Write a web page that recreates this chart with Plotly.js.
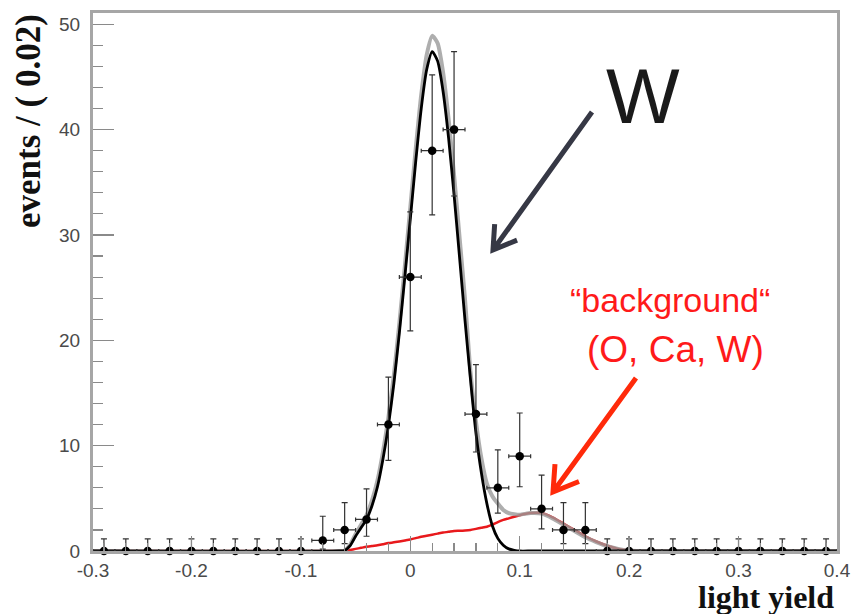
<!DOCTYPE html>
<html>
<head>
<meta charset="utf-8">
<script src="https://cdn.plot.ly/plotly-3.0.1.min.js"></script>
<style>html,body{margin:0;padding:0;background:#fff;}#chart{width:857px;height:614px;}</style>
</head>
<body>
<div id="chart"></div>
<script>
// ---- data ----
const binCenters = [-0.28,-0.26,-0.24,-0.22,-0.20,-0.18,-0.16,-0.14,-0.12,-0.10,
  -0.08,-0.06,-0.04,-0.02,0.00,0.02,0.04,0.06,0.08,0.10,0.12,0.14,0.16,
  0.18,0.20,0.22,0.24,0.26,0.28,0.30,0.32,0.34,0.36,0.38];
const events = [0,0,0,0,0,0,0,0,0,0,
  1,2,3,12,26,38,40,13,6,9,4,2,2,
  0,0,0,0,0,0,0,0,0,0,0];
const errUp = [1.15,1.15,1.15,1.15,1.15,1.15,1.15,1.15,1.15,1.15,
  2.3,2.6,2.9,4.5,6.2,7.2,7.4,4.7,3.6,4.1,3.2,2.6,2.6,
  1.15,1.15,1.15,1.15,1.15,1.15,1.15,1.15,1.15,1.15,1.15];
const errDown = [0,0,0,0,0,0,0,0,0,0,
  0.83,1.3,1.6,3.4,5.1,6.1,6.3,3.6,2.4,2.9,1.9,1.3,1.3,
  0,0,0,0,0,0,0,0,0,0,0];
const binHalfWidth = 0.01;

const curveX = [-0.29,-0.065,-0.06,-0.055,-0.05,-0.045,-0.04,-0.035,-0.03,-0.025,
  -0.02,-0.015,-0.01,-0.005,0,0.005,0.01,0.015,0.02,0.025,
  0.03,0.035,0.04,0.045,0.05,0.055,0.06,0.065,0.07,0.075,
  0.08,0.085,0.09,0.095,0.1,0.11,0.12,0.13,0.14,0.15,
  0.16,0.17,0.18,0.19,0.2,0.21,0.39];
const signalW = [0,0,0.05,0.5,1.4,2.2,3.0,4.3,6.1,8.7,
  11.9,15.9,20.7,26.0,31.5,37.0,42.0,45.7,47.4,46.5,
  43.6,39.2,33.8,27.9,21.9,16.3,11.2,7.4,4.5,2.4,
  1.2,0.55,0.2,0.07,0,0,0,0,0,0,
  0,0,0,0,0,0,0];
const background = [0,0,0,0.1,0.2,0.3,0.4,0.48,0.55,0.65,
  0.75,0.82,0.9,1.0,1.1,1.22,1.35,1.45,1.55,1.65,
  1.75,1.82,1.9,1.92,1.95,2.0,2.1,2.2,2.3,2.5,
  2.75,2.95,3.1,3.25,3.4,3.6,3.6,3.2,2.6,2.0,
  1.4,0.9,0.5,0.2,0.05,0,0];
const total = [0,0,0.05,0.6,1.6,2.5,3.4,4.8,6.7,9.4,
  12.7,16.7,21.6,27.0,32.6,38.2,43.3,47.1,48.9,48.2,
  45.4,41.0,35.7,29.8,23.9,17.0,12.3,8.8,6.4,5.2,
  4.5,3.9,3.6,3.5,3.45,3.6,3.55,3.1,2.5,1.9,
  1.3,0.85,0.45,0.2,0.05,0,0];

const xTickVals = [-0.29,-0.2,-0.1,0,0.1,0.2,0.3,0.39];
const xTickText = ['-0.3','-0.2','-0.1','0','0.1','0.2','0.3','0.4'];
const yTickVals = [0,10,20,30,40,50];

// ---- layout helpers (pixel positions in the 857x614 frame) ----
const W = 857, H = 614, L = 93, R = 20, T = 13, B = 63;
const pw = W - L - R, ph = H - T - B;
const px = x => (x - L) / pw;
const py = y => 1 - (y - T) / ph;

function arrowPath(tail, head, wing, angDeg) {
  const dx = tail[0]-head[0], dy = tail[1]-head[1];
  const len = Math.hypot(dx, dy), ux = dx/len, uy = dy/len;
  const a = angDeg*Math.PI/180;
  const w1 = [head[0] + wing*(ux*Math.cos(a) - uy*Math.sin(a)), head[1] + wing*(ux*Math.sin(a) + uy*Math.cos(a))];
  const w2 = [head[0] + wing*(ux*Math.cos(-a) - uy*Math.sin(-a)), head[1] + wing*(ux*Math.sin(-a) + uy*Math.cos(-a))];
  const p = q => px(q[0]).toFixed(5) + ',' + py(q[1]).toFixed(5);
  return 'M' + p(tail) + ' L' + p(head) + ' M' + p(w1) + ' L' + p(head) + ' L' + p(w2);
}

const traces = [
  {x: curveX, y: background, mode: 'lines', line: {color: '#e8191c', width: 2.5, shape: 'spline', smoothing: 0.6},
   cliponaxis: false, hoverinfo: 'skip', showlegend: false},
  {x: curveX, y: total, mode: 'lines', line: {color: '#9a9a9a', width: 4, shape: 'spline', smoothing: 0.6},
   opacity: 0.8, cliponaxis: false, hoverinfo: 'skip', showlegend: false},
  {x: curveX, y: signalW, mode: 'lines', line: {color: '#000000', width: 2.8, shape: 'spline', smoothing: 0.6},
   cliponaxis: false, hoverinfo: 'skip', showlegend: false},
  {x: binCenters, y: events, mode: 'markers', marker: {color: '#000', size: 8.5},
   error_y: {type: 'data', symmetric: false, array: errUp, arrayminus: errDown, color: '#333', thickness: 1.2, width: 3},
   error_x: {type: 'constant', value: binHalfWidth, color: '#333', thickness: 1.2, width: 2},
   cliponaxis: false, showlegend: false}
];

const tickFont = {family: 'Liberation Sans, Arial, sans-serif', size: 19, color: '#4a4a4a'};

const layout = {
  width: W, height: H,
  margin: {l: L, r: R, t: T, b: B, pad: 0},
  paper_bgcolor: '#fff', plot_bgcolor: '#fff',
  showlegend: false,
  xaxis: {
    range: [-0.29, 0.39], tickmode: 'array', tickvals: xTickVals, ticktext: xTickText,
    ticks: 'inside', ticklen: 15, tickwidth: 1.5, tickcolor: '#8a8a8a',
    minor: {tickmode: 'linear', tick0: 0, dtick: 0.02, ticks: 'inside', ticklen: 8, tickwidth: 1.2, tickcolor: '#8a8a8a'},
    showline: true, mirror: true, linecolor: '#a6a6a6', linewidth: 3,
    showgrid: false, zeroline: false, tickfont: tickFont, ticklabelstandoff: 0
  },
  yaxis: {
    range: [0, 51.07], tickmode: 'array', tickvals: yTickVals,
    ticks: 'inside', ticklen: 21, tickwidth: 1.5, tickcolor: '#8a8a8a',
    minor: {tickmode: 'linear', tick0: 0, dtick: 2, ticks: 'inside', ticklen: 10, tickwidth: 1.2, tickcolor: '#8a8a8a'},
    showline: true, mirror: true, linecolor: '#a6a6a6', linewidth: 3,
    showgrid: false, zeroline: false, tickfont: tickFont, ticklabelstandoff: 6
  },
  annotations: [
    {text: 'events / ( 0.02)', textangle: -90, xref: 'paper', yref: 'paper', x: px(29), y: py(121),
     xanchor: 'center', yanchor: 'middle', showarrow: false,
     font: {family: 'Liberation Serif, Times New Roman, serif', size: 35, color: '#111', weight: 'bold'}},
    {text: 'light yield', xref: 'paper', yref: 'paper', x: px(836), y: py(597),
     xanchor: 'right', yanchor: 'middle', showarrow: false,
     font: {family: 'Liberation Serif, Times New Roman, serif', size: 32, color: '#111', weight: 'bold'}},
    {text: 'W', xref: 'paper', yref: 'paper', x: px(643), y: py(96), xanchor: 'center', yanchor: 'middle', showarrow: false,
     font: {family: 'Liberation Sans, Arial, sans-serif', size: 78, color: '#1a1a1a'}},
    {text: '\u201Cbackground\u201C', xref: 'paper', yref: 'paper', x: px(670), y: py(300), xanchor: 'center', yanchor: 'middle', showarrow: false,
     font: {family: 'Liberation Sans, Arial, sans-serif', size: 34, color: '#ff1a1a'}},
    {text: '(O, Ca, W)', xref: 'paper', yref: 'paper', x: px(675), y: py(349), xanchor: 'center', yanchor: 'middle', showarrow: false,
     font: {family: 'Liberation Sans, Arial, sans-serif', size: 37, color: '#ff1a1a'}}
  ],
  shapes: [
    {type: 'path', xref: 'paper', yref: 'paper', path: arrowPath([592,112],[493,250],26,32),
     line: {color: '#363845', width: 5}},
    {type: 'path', xref: 'paper', yref: 'paper', path: arrowPath([636,378],[553,492],28,32),
     line: {color: '#ff2a0a', width: 5}}
  ]
};

Plotly.newPlot('chart', traces, layout, {staticPlot: true, displayModeBar: false});
</script>
</body>
</html>
